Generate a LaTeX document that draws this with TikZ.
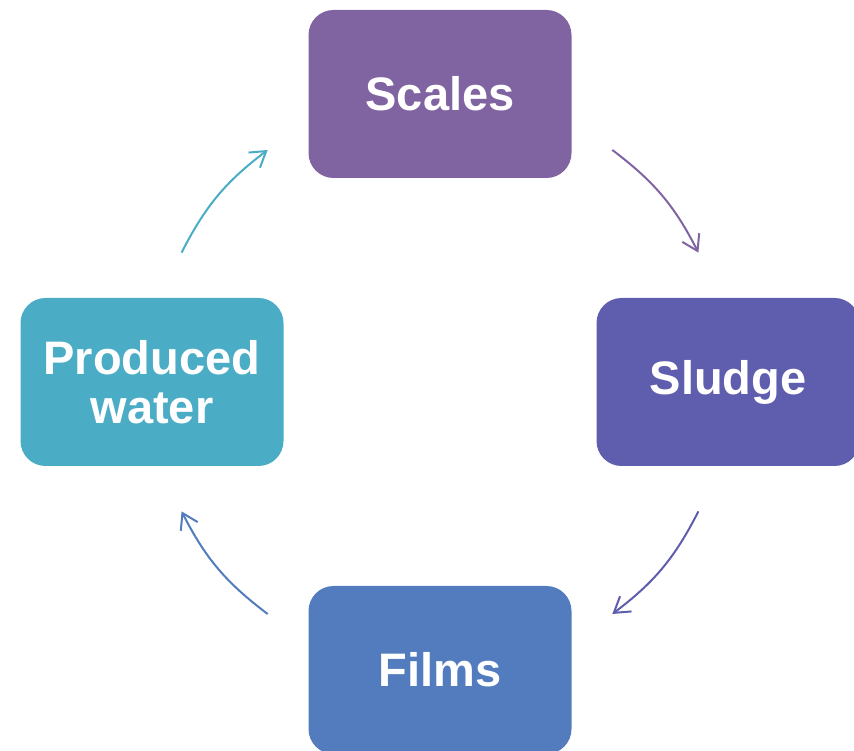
\documentclass[tikz,border=0pt]{standalone}
\usepackage{fontspec}
\setmainfont{Liberation Sans}
\usetikzlibrary{arrows.meta}
\definecolor{scalescol}{HTML}{8064A2}
\definecolor{sludgecol}{HTML}{5F5DAD}
\definecolor{filmscol}{HTML}{527CBD}
\definecolor{watercol}{HTML}{4BACC6}
\begin{document}
\begin{tikzpicture}[x=1pt, y=1pt,
    stage/.style={rectangle, draw=none, rounded corners=25pt,
        minimum width=263pt, minimum height=168pt, text centered,
        align=center, text=white,
        font=\bfseries\fontsize{47}{49}\selectfont},
    cyclearrow/.style={line width=2pt, bend left=13,
        -{Straight Barb[length=15pt,width=19pt]}}]

\clip (0,0) rectangle (854,750);
\coordinate (hub) at (440,368);

\node (Scales01) [stage, fill=scalescol] at (440,656) {Scales};
\node (Sludge01) [stage, fill=sludgecol] at (728,368) {Sludge};
\node (Films01) [stage, fill=filmscol] at (440,80) {Films};
\node (Water01) [stage, fill=watercol] at (152,368) {Produced\\water};

\coordinate (arc1a) at ([shift={(53.4:289)}]hub);
\coordinate (arc1b) at ([shift={(26.6:289)}]hub);
\coordinate (arc2a) at ([shift={(-26.6:289)}]hub);
\coordinate (arc2b) at ([shift={(-53.4:289)}]hub);
\coordinate (arc3a) at ([shift={(-126.6:289)}]hub);
\coordinate (arc3b) at ([shift={(-153.4:289)}]hub);
\coordinate (arc4a) at ([shift={(153.4:289)}]hub);
\coordinate (arc4b) at ([shift={(126.6:289)}]hub);

\draw [cyclearrow, scalescol] (arc1a) to (arc1b);
\draw [cyclearrow, sludgecol] (arc2a) to (arc2b);
\draw [cyclearrow, filmscol] (arc3a) to (arc3b);
\draw [cyclearrow, watercol] (arc4a) to (arc4b);

\end{tikzpicture}
\end{document}
